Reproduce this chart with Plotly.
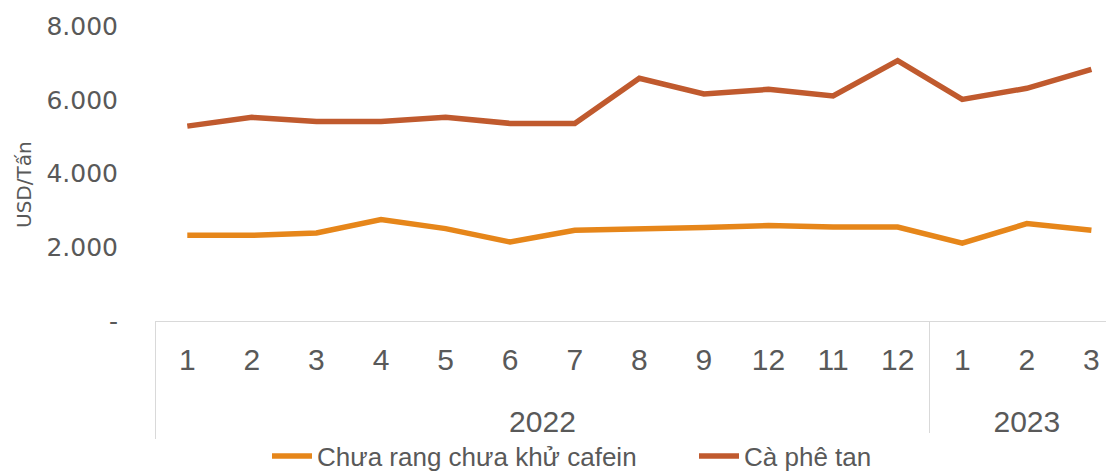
import plotly.graph_objects as go

years = ["<br>2022"] * 12 + ["<br>2023"] * 3
months = ["1", "2", "3", "4", "5", "6", "7", "8", "9", "12", "11", "12\u200b", "1", "2", "3"]
chua_rang = [2323, 2323, 2386, 2750, 2505, 2141, 2459, 2478, 2533, 2587, 2549, 2549, 2114, 2641, 2459]
ca_phe_tan = [5285, 5522, 5413, 5413, 5522, 5359, 5359, 6582, 6155, 6283, 6101, 7060, 6011, 6310, 6826]
y_ticks = [0, 2000, 4000, 6000, 8000]
y_ticktext = ["-", "2.000", "4.000", "6.000", "8.000"]

GRAY = "#595959"
# page body has an 8px margin: figure drawn at (8, 8)
W, H = 1106, 464
L, T, B = 147, 18, 151
fig = go.Figure()
fig.add_trace(go.Scatter(x=[years, months], y=chua_rang, mode="lines",
                         name="Chưa rang chưa khử cafein",
                         line=dict(color="#E6861A", width=5.5)))
fig.add_trace(go.Scatter(x=[years, months], y=ca_phe_tan, mode="lines",
                         name="Cà phê tan",
                         line=dict(color="#C05A2E", width=5.5)))

plot_w = W - L
plot_h = H - T - B
fig.add_annotation(text="USD/Tấn", textangle=-90, showarrow=False,
                   xref="paper", yref="paper",
                   x=(16 - L) / plot_w, y=(T + plot_h - 177) / plot_h,
                   xanchor="center", yanchor="middle",
                   font=dict(family="DejaVu Sans", size=20, color=GRAY))

fig.update_layout(
    width=W, height=H,
    margin=dict(l=L, r=0, t=T, b=B, autoexpand=False),
    plot_bgcolor="white", paper_bgcolor="white",
    font=dict(family="DejaVu Sans", color=GRAY),
    showlegend=True,
    legend=dict(orientation="h", xref="container", yref="container",
                x=(694 - 8) / W, xanchor="center", y=16 / H, yanchor="middle",
                font=dict(family="Liberation Sans", size=26, color=GRAY),
                itemwidth=40, entrywidth=372),
    xaxis=dict(type="multicategory", range=[-0.5, 14.35], automargin=False,
               showline=True, linecolor="#d9d9d9", linewidth=1,
               ticklabelstandoff=12,
               showgrid=False, showdividers=True, dividercolor="#d9d9d9", dividerwidth=1,
               tickfont=dict(family="Liberation Sans", size=30, color=GRAY)),
    yaxis=dict(range=[0, 8000], tickvals=y_ticks, ticktext=y_ticktext, automargin=False,
               showgrid=False, zeroline=False, showline=False,
               ticklabelstandoff=36,
               tickfont=dict(family="DejaVu Sans", size=25, color=GRAY)),
)
fig.write_html("out.html")
